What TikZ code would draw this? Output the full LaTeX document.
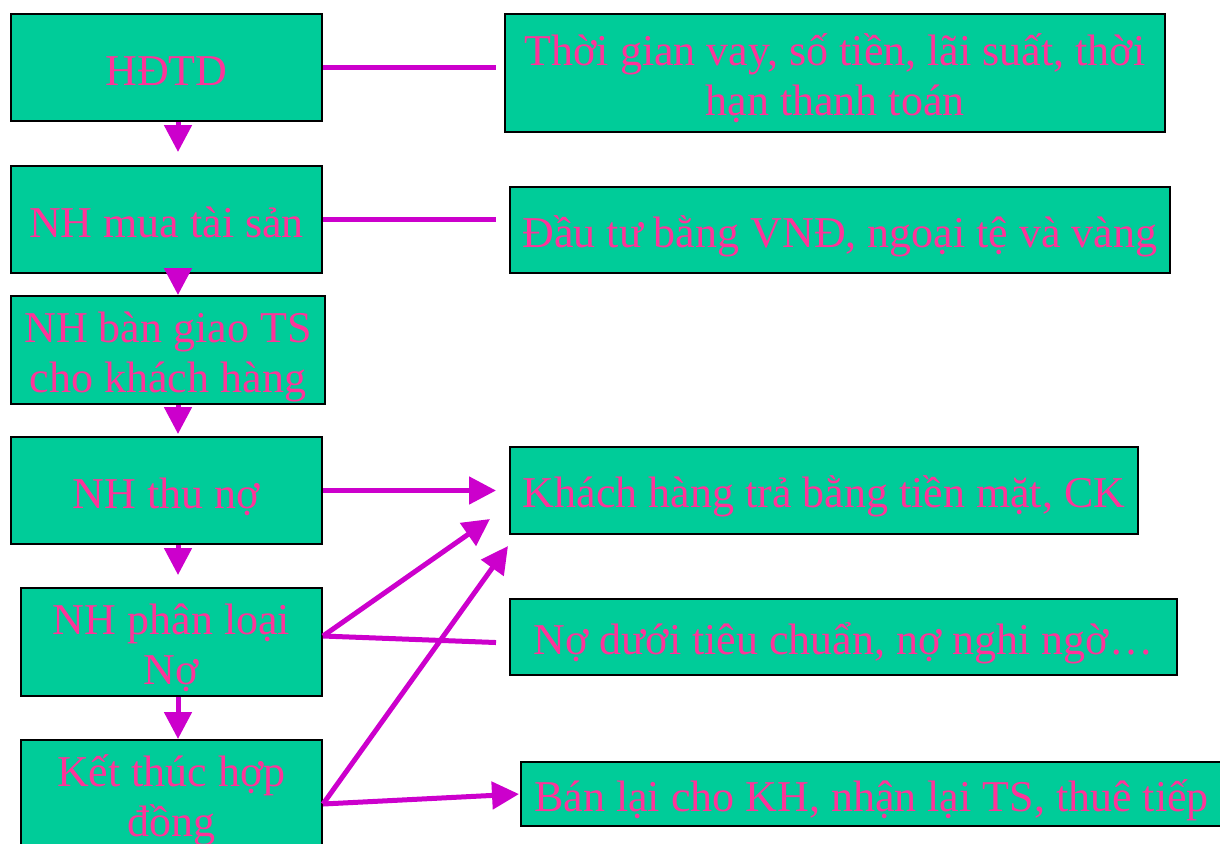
\documentclass[tikz,border=0pt]{standalone}
\usepackage{fontspec}
\setmainfont{Liberation Serif}
\usetikzlibrary{arrows.meta}
\definecolor{boxgreen}{HTML}{00CC99}
\definecolor{txtpink}{HTML}{FF3399}
\definecolor{linemag}{HTML}{CC00CC}

\begin{document}
\begin{tikzpicture}[x=0.5pt,y=-0.5pt,>={Triangle[length=13.5pt,width=13.5pt]},
        box/.style={draw=black,line width=1pt,fill=boxgreen,text=txtpink,align=center,
                    inner sep=0pt,font=\fontsize{22}{25}\selectfont,
                    execute at begin node={\rule{0pt}{22pt}},
                    execute at end node={\rule[-4.5pt]{0pt}{4.5pt}}},
        link/.style={draw=linemag,line width=2.5pt},
        flow/.style={link,->}]
        \useasboundingbox (0,0) rectangle (1220,843);
        % left column
        \node[box,minimum width=155.5pt,minimum height=53.5pt](hdtd) at (166.5,67.5) {HĐTD};
        \node[box,minimum width=155.5pt,minimum height=53.5pt](mua) at (166.5,219.5) {NH mua tài sản};
        \node[box,minimum width=157pt,minimum height=54pt](bangiao) at (168,350) {\rule{0pt}{22pt}NH bàn giao TS\\cho khách hàng\rule[-4.5pt]{0pt}{4.5pt}};
        \node[box,minimum width=155.5pt,minimum height=53.5pt](thuno) at (166.5,490.5) {NH thu nợ};
        \node[box,minimum width=150.5pt,minimum height=54pt](phanloai) at (171.5,642) {\rule{0pt}{22pt}NH phân loại\\Nợ\rule[-4.5pt]{0pt}{4.5pt}};
        \node[box,minimum width=150.5pt,minimum height=54pt](ketthuc) at (171.5,794) {\rule{0pt}{22pt}Kết thúc hợp\\đồng\rule[-4.5pt]{0pt}{4.5pt}};
        % right column
        \node[box,minimum width=330pt,minimum height=59pt](thoigian) at (835,73) {\rule{0pt}{22pt}Thời gian vay, số tiền, lãi suất, thời\\hạn thanh toán\rule[-4.5pt]{0pt}{4.5pt}};
        \node[box,minimum width=330pt,minimum height=43pt](dautu) at (840,230) {Đầu tư bằng VNĐ, ngoại tệ và vàng};
        \node[box,minimum width=314pt,minimum height=43.5pt](tratien) at (824,490.5) {Khách hàng trả bằng tiền mặt, CK};
        \node[box,minimum width=333.5pt,minimum height=38pt](nodtc) at (843.5,637) {Nợ dưới tiêu chuẩn, nợ nghi ngờ…};
        \node[box,minimum width=350.5pt,minimum height=32pt](banlai) at (871.5,794) {Bán lại cho KH, nhận lại TS, thuê tiếp};

        \coordinate (axis) at (178,0);
        \coordinate (hit1) at (490,519);
        \coordinate (hit2) at (508,546);

        \draw[flow,shorten >=6.5pt] (hdtd.south -| axis) -- (mua.north -| axis);
        \draw[flow] (mua.south -| axis) -- (bangiao.north -| axis);
        \draw[flow,shorten >=1pt] (bangiao.south -| axis) -- (thuno.north -| axis);
        \draw[flow,shorten >=6pt] (thuno.south -| axis) -- (phanloai.north -| axis);
        \draw[flow] (phanloai.south -| axis) -- (ketthuc.north -| axis);

        \draw[link,shorten >=4pt] (hdtd.east) -- (hdtd.east -| thoigian.west);
        \draw[link,shorten >=6.5pt] (mua.east) -- (mua.east -| dautu.west);
        \draw[flow,shorten >=6.5pt] (thuno.east) -- (thuno.east -| tratien.west);
        \draw[flow] ([yshift=3pt]phanloai.east) -- (hit1);
        \draw[link,shorten >=6.5pt] ([yshift=3pt]phanloai.east) -- ([yshift=-3pt]nodtc.west);
        \draw[flow] ([yshift=-5pt]ketthuc.east) -- (hit2);
        \draw[flow,shorten >=0.5pt] ([yshift=-5pt]ketthuc.east) -- (banlai.west);
\end{tikzpicture}
\end{document}
